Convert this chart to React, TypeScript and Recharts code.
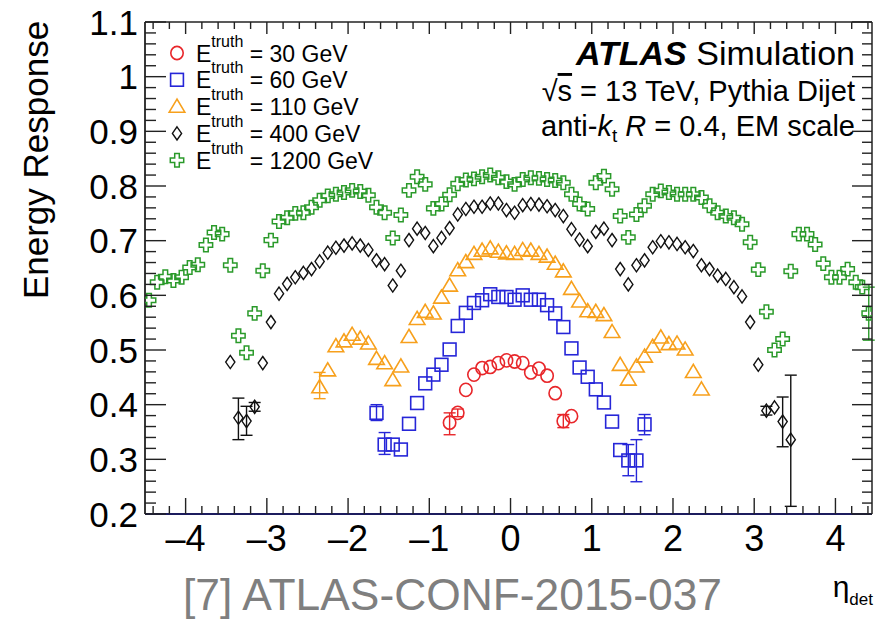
import React from "react"
import { ScatterChart, Scatter, XAxis, YAxis, ErrorBar } from "recharts"

// [eta, response, errLow?, errHigh?]
const pts30 = [
  [-0.75, 0.367, 0.022, 0.018], [-0.65, 0.385, 0.007, 0.007], [-0.55, 0.427], [-0.45, 0.455],
  [-0.35, 0.467], [-0.25, 0.469], [-0.15, 0.476], [-0.05, 0.481],
  [0.05, 0.479], [0.15, 0.476], [0.25, 0.459], [0.35, 0.466],
  [0.45, 0.453], [0.55, 0.421], [0.65, 0.37, 0.012, 0.012], [0.75, 0.379],
]

const pts60 = [
  [-1.65, 0.385, 0.014, 0.015], [-1.55, 0.327, 0.018, 0.022], [-1.45, 0.327], [-1.35, 0.318],
  [-1.25, 0.365], [-1.15, 0.403], [-1.05, 0.439], [-0.95, 0.455], [-0.85, 0.473],
  [-0.75, 0.501], [-0.65, 0.544], [-0.55, 0.568], [-0.45, 0.586], [-0.35, 0.591],
  [-0.25, 0.602], [-0.15, 0.597], [-0.05, 0.597], [0.05, 0.592], [0.15, 0.6],
  [0.25, 0.592], [0.35, 0.592], [0.45, 0.582], [0.55, 0.567], [0.65, 0.542],
  [0.75, 0.503], [0.85, 0.468], [0.95, 0.451], [1.05, 0.428], [1.15, 0.404],
  [1.25, 0.369], [1.35, 0.317], [1.45, 0.298, 0.028, 0.029], [1.55, 0.298, 0.039, 0.038],
  [1.65, 0.364, 0.019, 0.018],
]

const pts110 = [
  [-2.35, 0.432, 0.021, 0.027], [-2.25, 0.463], [-2.15, 0.507], [-2.05, 0.516],
  [-1.95, 0.528], [-1.85, 0.521], [-1.75, 0.512], [-1.65, 0.484], [-1.55, 0.476],
  [-1.45, 0.445], [-1.35, 0.47], [-1.25, 0.524], [-1.15, 0.557], [-1.05, 0.57],
  [-0.95, 0.567], [-0.85, 0.596], [-0.75, 0.618], [-0.65, 0.646], [-0.55, 0.661],
  [-0.45, 0.676], [-0.35, 0.682], [-0.25, 0.686], [-0.15, 0.68], [-0.05, 0.677],
  [0.05, 0.676], [0.15, 0.683], [0.25, 0.682], [0.35, 0.676], [0.45, 0.671],
  [0.55, 0.658], [0.65, 0.644], [0.75, 0.612], [0.85, 0.589], [0.95, 0.571],
  [1.05, 0.57], [1.15, 0.564], [1.25, 0.533], [1.35, 0.473], [1.45, 0.446],
  [1.55, 0.47], [1.65, 0.488], [1.75, 0.506], [1.85, 0.523], [1.95, 0.511],
  [2.05, 0.512], [2.15, 0.501], [2.25, 0.46], [2.35, 0.428],
]

const pts400 = [
  [-3.45, 0.478], [-3.35, 0.376, 0.04, 0.036], [-3.25, 0.37, 0.026, 0.027], [-3.15, 0.396, 0.008, 0.008],
  [-3.05, 0.476], [-2.95, 0.551], [-2.85, 0.603], [-2.75, 0.621], [-2.65, 0.633],
  [-2.55, 0.641], [-2.45, 0.648], [-2.35, 0.662], [-2.25, 0.678], [-2.15, 0.687],
  [-2.05, 0.691], [-1.95, 0.695], [-1.85, 0.691], [-1.75, 0.683], [-1.65, 0.664],
  [-1.55, 0.657], [-1.45, 0.618], [-1.35, 0.645], [-1.25, 0.701], [-1.15, 0.722],
  [-1.05, 0.714], [-0.95, 0.69], [-0.85, 0.705], [-0.75, 0.723], [-0.65, 0.748],
  [-0.55, 0.758], [-0.45, 0.762], [-0.35, 0.762], [-0.25, 0.768], [-0.15, 0.768],
  [-0.05, 0.756], [0.05, 0.751], [0.15, 0.765], [0.25, 0.767], [0.35, 0.766],
  [0.45, 0.763], [0.55, 0.756], [0.65, 0.745], [0.75, 0.721], [0.85, 0.702],
  [0.95, 0.69], [1.05, 0.716], [1.15, 0.722], [1.25, 0.701], [1.35, 0.648],
  [1.45, 0.62], [1.55, 0.655], [1.65, 0.664], [1.75, 0.688], [1.85, 0.699],
  [1.95, 0.697], [2.05, 0.694], [2.15, 0.688], [2.25, 0.681], [2.35, 0.655],
  [2.45, 0.648], [2.55, 0.636], [2.65, 0.63], [2.75, 0.615], [2.85, 0.598],
  [2.95, 0.551], [3.05, 0.473], [3.15, 0.389, 0.008, 0.008], [3.25, 0.395],
  [3.35, 0.369, 0.046, 0.045], [3.45, 0.336, 0.122, 0.118],
]

const pts1200 = [
  [-4.45, 0.591], [-4.35, 0.624], [-4.25, 0.634], [-4.15, 0.627], [-4.05, 0.633],
  [-3.95, 0.651], [-3.85, 0.656], [-3.75, 0.692], [-3.65, 0.715], [-3.55, 0.712],
  [-3.45, 0.655], [-3.35, 0.526], [-3.25, 0.495], [-3.15, 0.567], [-3.05, 0.645],
  [-2.95, 0.701], [-2.85, 0.735], [-2.75, 0.742], [-2.65, 0.75], [-2.55, 0.751],
  [-2.45, 0.761], [-2.35, 0.774], [-2.25, 0.782], [-2.15, 0.785], [-2.05, 0.788],
  [-1.95, 0.792], [-1.85, 0.79], [-1.75, 0.783], [-1.65, 0.761], [-1.55, 0.751],
  [-1.45, 0.705], [-1.35, 0.747], [-1.25, 0.792], [-1.15, 0.817], [-1.05, 0.803],
  [-0.95, 0.759], [-0.85, 0.767], [-0.75, 0.784], [-0.65, 0.804], [-0.55, 0.811],
  [-0.45, 0.813], [-0.35, 0.817], [-0.25, 0.82], [-0.15, 0.815], [-0.05, 0.808],
  [0.05, 0.803], [0.15, 0.812], [0.25, 0.815], [0.35, 0.814], [0.45, 0.812],
  [0.55, 0.81], [0.65, 0.806], [0.75, 0.785], [0.85, 0.767], [0.95, 0.758],
  [1.05, 0.806], [1.15, 0.818], [1.25, 0.794], [1.35, 0.745], [1.45, 0.706],
  [1.55, 0.748], [1.65, 0.764], [1.75, 0.785], [1.85, 0.791], [1.95, 0.788],
  [2.05, 0.785], [2.15, 0.785], [2.25, 0.785], [2.35, 0.779], [2.45, 0.764],
  [2.55, 0.751], [2.65, 0.745], [2.75, 0.742], [2.85, 0.73], [2.95, 0.697],
  [3.05, 0.647], [3.15, 0.57], [3.25, 0.5], [3.35, 0.52], [3.45, 0.644],
  [3.55, 0.712], [3.65, 0.712], [3.75, 0.693], [3.85, 0.658], [3.95, 0.633],
  [4.05, 0.633], [4.15, 0.648], [4.25, 0.624], [4.33, 0.615], [4.41, 0.567, 0.049, 0.048],
]

const energies = ["30", "60", "110", "400", "1200"]
const seriesPts = [pts30, pts60, pts110, pts400, pts1200]
const kinds = ["circle", "square", "triangle", "diamond", "cross"]
const colors = ["#e8262a", "#2626d8", "#f7a01c", "#111111", "#2a9a2a"]

const xTickLabels = [-4, -3, -2, -1, 0, 1, 2, 3, 4]
const yTickLabels = [0.2, 0.3, 0.4, 0.5, 0.6, 0.7, 0.8, 0.9, 1, 1.1]

const FONT = "'Liberation Sans', Arial, Helvetica, sans-serif"

// frame: x 145..872, y 22..514
const X_DOMAIN = [-4.5, 4.45]
const Y_DOMAIN = [0.2, 1.1]

const xTicks: number[] = []
for (let i = -22; i <= 22; i++) xTicks.push(Math.round(i * 2) / 10)
const yTicks: number[] = []
for (let i = 10; i <= 55; i++) yTicks.push(Math.round(i * 2) / 100)

const isMajorX = (v: number) => xTickLabels.some((t) => Math.abs(t - v) < 1e-6)
const isMajorY = (v: number) => yTickLabels.some((t) => Math.abs(t - v) < 1e-6)
const fmtX = (v: number) => (v < 0 ? "\u2013" + Math.abs(v) : String(v))

const toRows = (pts: number[][]) =>
  pts.map(([eta, r, lo, hi]) => ({ eta, r, err: lo != null ? [lo, hi] : undefined }))

function Marker({ kind, cx, cy, color }: any) {
  const sw = 1.6
  if (kind === "circle") return <ellipse cx={cx} cy={cy} rx={6.2} ry={6.6} fill="none" stroke={color} strokeWidth={sw} />
  if (kind === "square") return <rect x={cx - 6.4} y={cy - 6.4} width={12.8} height={12.8} fill="none" stroke={color} strokeWidth={sw} />
  if (kind === "triangle")
    return <polygon points={`${cx},${cy - 7.5} ${cx - 7.8},${cy + 5.6} ${cx + 7.8},${cy + 5.6}`} fill="none" stroke={color} strokeWidth={sw} />
  if (kind === "diamond")
    return <polygon points={`${cx},${cy - 6.6} ${cx + 4.6},${cy} ${cx},${cy + 6.6} ${cx - 4.6},${cy}`} fill="none" stroke={color} strokeWidth={1.4} />
  const a = 6.7
  const b = 2.3
  const p = [[-b, -a], [b, -a], [b, -b], [a, -b], [a, b], [b, b], [b, a], [-b, a], [-b, b], [-a, b], [-a, -b], [-b, -b]]
  return <polygon points={p.map(([dx, dy]) => `${cx + dx},${cy + dy}`).join(" ")} fill="none" stroke={color} strokeWidth={1.5} />
}

function BottomTick({ x, y, payload }: any) {
  const major = isMajorX(payload.value)
  return (
    <g>
      <line x1={x} x2={x} y1={y} y2={y - (major ? 16 : 8)} stroke="#222" strokeWidth={1.4} />
      {major && (
        <text x={x} y={y + 37} textAnchor="middle" fontSize={36} fontFamily={FONT} fill="#000">
          {fmtX(payload.value)}
        </text>
      )}
    </g>
  )
}

function TopTick({ x, y, payload }: any) {
  const major = isMajorX(payload.value)
  return <line x1={x} x2={x} y1={y} y2={y + (major ? 12 : 7)} stroke="#222" strokeWidth={1.4} />
}

function LeftTick({ x, y, payload }: any) {
  const major = isMajorY(payload.value)
  return (
    <g>
      <line x1={x} x2={x + (major ? 21 : 11)} y1={y} y2={y} stroke="#222" strokeWidth={1.4} />
      {major && (
        <text x={x - 7} y={y} dy="0.36em" textAnchor="end" fontSize={35} fontFamily={FONT} fill="#000">
          {String(payload.value)}
        </text>
      )}
    </g>
  )
}

function RightTick({ x, y, payload }: any) {
  const major = isMajorY(payload.value)
  return <line x1={x} x2={x - (major ? 20 : 10)} y1={y} y2={y} stroke="#222" strokeWidth={1.4} />
}

export default function App() {
  return (
    <div style={{ position: "absolute", left: 0, top: 0, width: 877, height: 621, background: "#fff" }}>
      <ScatterChart width={877} height={621} margin={{ top: 12, right: 0, bottom: 77, left: 85 }}>
        <XAxis
          type="number"
          dataKey="eta"
          domain={X_DOMAIN}
          allowDataOverflow
          ticks={xTicks}
          interval={0}
          height={30}
          tickSize={0}
          tickMargin={0}
          tickLine={false}
          axisLine={{ stroke: "#1c1c5e", strokeWidth: 2 }}
          tick={(p: any) => <BottomTick {...p} />}
        />
        <XAxis
          xAxisId="top"
          orientation="top"
          type="number"
          dataKey="eta"
          domain={X_DOMAIN}
          allowDataOverflow
          ticks={xTicks}
          interval={0}
          height={10}
          tickSize={0}
          tickMargin={0}
          tickLine={false}
          axisLine={{ stroke: "#222", strokeWidth: 1.5 }}
          tick={(p: any) => <TopTick {...p} />}
        />
        <YAxis
          type="number"
          dataKey="r"
          domain={Y_DOMAIN}
          allowDataOverflow
          ticks={yTicks}
          interval={0}
          width={60}
          tickSize={0}
          tickMargin={0}
          tickLine={false}
          axisLine={{ stroke: "#222", strokeWidth: 1.8 }}
          tick={(p: any) => <LeftTick {...p} />}
        />
        <YAxis
          yAxisId="right"
          orientation="right"
          type="number"
          dataKey="r"
          domain={Y_DOMAIN}
          allowDataOverflow
          ticks={yTicks}
          interval={0}
          width={5}
          tickSize={0}
          tickMargin={0}
          tickLine={false}
          axisLine={{ stroke: "#222", strokeWidth: 1.5 }}
          tick={(p: any) => <RightTick {...p} />}
        />
        {seriesPts.map((pts, i) => (
          <Scatter
            key={energies[i]}
            name={energies[i]}
            data={toRows(pts)}
            isAnimationActive={false}
            shape={(p: any) => <Marker kind={kinds[i]} cx={p.cx} cy={p.cy} color={colors[i]} />}
          >
            <ErrorBar dataKey="err" direction="y" width={6} stroke={colors[i]} strokeWidth={1.4} />
          </Scatter>
        ))}
      </ScatterChart>

      <svg width={877} height={621} style={{ position: "absolute", left: 0, top: 0, pointerEvents: "none" }} fontFamily={FONT}>
        {energies.map((e, i) => {
          const y = 53 + i * 26.8
          return (
            <g key={e}>
              <Marker kind={kinds[i]} cx={177} cy={y} color={colors[i]} />
              <text x={196} y={y + 8.5} fontSize={23} fill="#000">
                E
                <tspan dy={-15} fontSize={16}>truth</tspan>
                <tspan dy={15} fontSize={23}>{` = ${e} GeV`}</tspan>
              </text>
            </g>
          )
        })}

        <text x={855} y={65} textAnchor="end" fontSize={34} fill="#000">
          <tspan fontWeight="bold" fontStyle="italic">ATLAS</tspan>
          <tspan> Simulation</tspan>
        </text>
        <text x={855} y={101} textAnchor="end" fontSize={29} fill="#000">
          √<tspan textDecoration="overline">s</tspan> = 13 TeV, Pythia Dijet
        </text>
        <text x={855} y={136} textAnchor="end" fontSize={29} fill="#000">
          anti-<tspan fontStyle="italic">k</tspan>
          <tspan fontSize={19} dy={6}>t</tspan>
          <tspan dy={-6}> </tspan>
          <tspan fontStyle="italic">R</tspan> = 0.4, EM scale
        </text>

        <text transform="translate(48,160) rotate(-90)" textAnchor="middle" fontSize={35} fill="#000">
          Energy Response
        </text>

        <text x={873} y={597} textAnchor="end" fontSize={30} fill="#000">
          η<tspan fontSize={17} dy={8}>det</tspan>
        </text>

        <text x={183} y={610} fontSize={44} fill="#7f7f7f" textLength={539} lengthAdjust="spacingAndGlyphs">
          [7] ATLAS-CONF-2015-037
        </text>
      </svg>
    </div>
  )
}
